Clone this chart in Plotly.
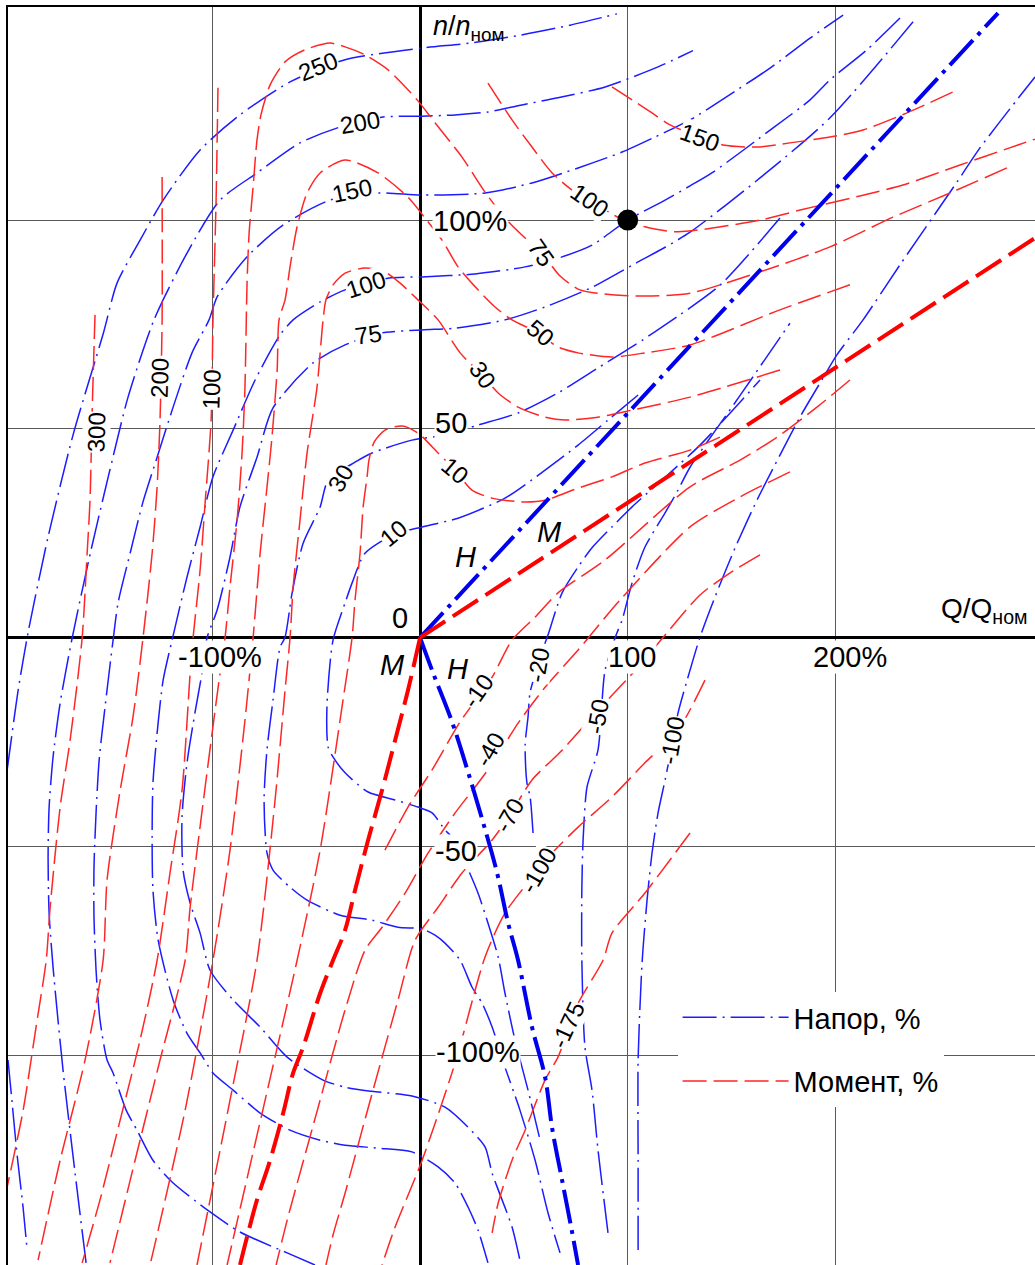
import plotly.graph_objects as go

FONT = "Liberation Sans, Arial, sans-serif"
BLUE = "#1c1cff"
RED = "#ff2626"

# ---------------- Head contours (Напор, %) : Q/Qном %, n/nном % ----------------
H250_q = [-198.8, -193.5, -188.7, -179.1, -167.1, -152.6, -145.9, -134.8, -123.7, -105.9, -86.7, -62.6, -36.1, 0.5, 24.1, 48.1, 72.2, 94.8]
H250_n = [-31.7, -12.6, 1.3, 24.1, 48.5, 72.7, 84.9, 95.2, 104.8, 116.8, 125.2, 133.1, 138.4, 141.2, 142.4, 144.3, 146.7, 149.4]

H250b_q = [-198.4, -196.4, -194.0, -191.1, -189.2]
H250b_n = [-101.2, -111.5, -124.0, -136.7, -146.7]

H200_q = [-160.8, -166.1, -171.9, -176.7, -178.6, -179.1, -178.6, -176.7, -173.3, -167.5, -158.4, -146.8, -140.6, -128.1, -112.2, -96.3, -78.5, -57.8, -38.5, -17.8, 1, 16.9, 32.7, 49.1, 66.4, 89.1, 114.6, 131.4]
H200_n = [-149.8, -128.3, -103.6, -79, -66, -52.6, -40.6, -28.6, -15.7, -0.1, 21, 45.4, 57.6, 76.1, 92.1, 104.8, 111.3, 118.5, 122.3, 124.7, 124.9, 125.2, 125.9, 127.6, 129.3, 131.9, 136.7, 140.6]

H150_q = [-50.6, -64, -86.7, -101.1, -119.4, -128.6, -136.3, -141.5, -147.8, -150.7, -154.1, -156, -157, -157, -156, -154.5, -151.7, -147.8, -145.4, -139.6, -133.4, -126.6, -118.9, -109.8, -101.6, -97.7, -83.3, -66, -43.3, -20.2, 1, 31.3, 53.9, 76.1, 97.3, 113.1, 130, 146.8, 168.5, 187.8, 203.7]
H150_n = [-150.3, -147.4, -142.4, -137.6, -130.4, -125.2, -118, -113.2, -104.3, -101.2, -91.6, -79.7, -67, -55, -42, -29.3, -16.7, -0.6, 8.3, 20.2, 32.5, 43.2, 55.2, 68.2, 76.1, 81.6, 91.2, 98.8, 104.8, 106.5, 106, 106.5, 108.9, 112.5, 116.3, 119.9, 124, 129.3, 136.4, 143.6, 149.1]

H100_q = [231.1, 215.2, 197.4, 187.8, 170, 141.1, 130, 118, 100, 82.8, 68.4, 50.6, 26.5, 1, -15.4, -36.1, -48.1, -61.1, -67.4, -79.4, -90, -99.7, -105.9, -112.2, -119.4, -123.7, -126.6, -128.6, -129, -128.6, -126.1, -118.9, -112.2, -105.9, -99.7, -90, -77, -62.6, -48.1, -36.1, -20.2, -3.9, 8.7, 16.9, 23.1, 27.9, 32.7]
H100_n = [148.4, 140.8, 133.6, 128.8, 122.1, 111.5, 108.2, 104.8, 100, 94, 91.2, 88.8, 87.1, 86.4, 86.1, 83.3, 80.4, 76.1, 72.5, 61.7, 49.7, 38.5, 26.5, 14.5, -0.6, -10.2, -22.9, -34.9, -47.8, -60.5, -72.5, -86.8, -94.8, -99.5, -104.3, -108.4, -113.9, -118, -120.4, -121.6, -122.3, -123.2, -126.8, -130.7, -136.4, -141.9, -149.8]

H75_q = [237.4, 197.4, 163.7, 130, 118, 102.1, 82.8, 60.2, 40.9, 16.9, 1, -19.3, -36.1, -51.5, -70.8, -78.5, -86.7, -91.5, -97.7, -102.6, -105, -108.3, -112.2, -114.6, -114.1, -110.7, -105.9, -101.1, -90, -77, -64, -46.7, -36.1, -23.1, -3.9, 12, 23.1, 31.3, 34.7, 39.5, 44.3, 48.6]
H75_n = [147.5, 124.5, 110.1, 97.1, 93.5, 89.2, 83.9, 79.2, 76.1, 74.1, 73.7, 72.9, 70.1, 65.8, 55, 43.2, 31.3, 19.3, 6.6, -0.1, -8.5, -17.8, -30, -43, -55.7, -63.6, -70.8, -79.7, -86.8, -93.3, -100.5, -106, -107.7, -108.7, -109.8, -112.5, -117.3, -122, -128.3, -134.7, -141.2, -150.3]

H30_q = [173.3, 144.4, 118, 103.5, 85.7, 66.4, 47.2, 27.9, 12, -3.9, -23.1, -31.3, -44.3, -48.1, -56.3, -61.6, -65, -67.4, -70.8, -73.7, -75.1, -73.7, -70.8, -62.6, -54.4, -38.5, -23.1, -10.6, 1, 7.2, 12, 19.3, 25, 29.9, 34.7, 40.9, 48.1, 55.4, 61.6, 67.4]
H30_n = [100.5, 84.4, 74.9, 70.1, 64.6, 58.6, 53.8, 50.9, 48.5, 47.3, 44.2, 42, 37.7, 31.3, 22.6, 10.7, 0.1, -2.3, -15, -26.9, -38.9, -51.6, -55.7, -59.8, -62.9, -66.5, -67.7, -69.4, -69.8, -71.3, -73.2, -77.3, -83.7, -87.6, -93.3, -102.9, -113.2, -125.2, -137.8, -147.4]

H10_q = [105, 90.5, 76.1, 60.2, 40.9, 18.3, 1, -13, -26.5, -32.7, -36.1, -41.9, -44.8, -44.3, -41.9, -36.1, -25, -12, -1, 5.8, 12, 14.4, 21.7, 27.9, 32.7, 37.6, 40.9, 45.7, 52, 57.8]
H10_n = [58.1, 52.1, 46.1, 40.1, 33.4, 28.6, 26.5, 24.6, 20.2, 13.1, 8.3, -0.6, -16.2, -26.2, -28.6, -32.4, -37, -38.9, -40.6, -42, -46.1, -47.3, -54, -61.2, -68.4, -76.5, -85.2, -96.4, -108.4, -120.4]

Hm20_q = [54.4, 53, 51.5, 50.6, 52, 53, 56.8, 60.2, 61.6, 68.4, 76.1, 82.8, 92.4, 102.1, 134.8, 163.7]
Hm20_n = [-46.8, -38.2, -34.9, -25.8, -19, -13.1, -6.6, -1.3, 0.6, 10.7, 16.9, 21.5, 26.5, 31.3, 46.1, 61.7]

Hm50_q = [90.5, 85.7, 82.8, 79.4, 77.9, 77.9, 78.5, 80.4, 85.7, 89.1, 94.8, 97.3, 102.1, 108.3, 117.9, 124.2, 130, 154.1, 178.1]
Hm50_n = [-142.6, -122.8, -108.4, -98.1, -77.3, -60.5, -48.5, -35.8, -26.9, -7.8, 1.1, 4.2, 13.1, 21.7, 29.8, 35.3, 40.8, 58.0, 75.3]

Hm100_q = [105, 105, 105, 106.9, 109.3, 111.7, 114.6, 118, 121.3, 124.2, 130, 134.8, 142, 151.7, 162.3, 173.3, 182.9, 194.9, 200.7, 213.3, 231.1, 258.5, 269.6, 287.4, 296.1]
Hm100_n = [-146.7, -125.2, -101.2, -78, -62.9, -51.6, -42, -34.1, -25.8, -18.1, -7.8, 0.1, 9.7, 21.5, 33, 43.7, 52.8, 62.9, 67.7, 76.1, 89.3, 109.1, 117.3, 128.8, 134.3]

# zero-head line (thick)
H0_up_q = [0, 278.3]
H0_up_n = [0, 149.6]
H0_dn_q = [0, 6.3, 15.4, 23.1, 30.3, 37.1, 42.4, 47.2, 53.9, 60.2, 63.6, 68.4, 73.2, 76.1]
H0_dn_n = [0, -8.5, -20.2, -32.2, -44.2, -56.4, -68.4, -77.3, -93.3, -105.3, -117.5, -130, -142.4, -150.3]

# ---------------- Torque contours (Момент, %) ----------------
M300_q = [-156.5, -157.9, -158.9, -160.3, -162.7, -168.5, -173.3, -178.1, -180, -184.9, -191.1, -198.8]
M300_n = [77.3, 53.8, 32.9, 20.2, -0.1, -24.6, -40.6, -64.6, -77.3, -93.3, -113.2, -131.6]

M200_q = [-124.2, -124.2, -125.2, -126.6, -129, -133.4, -138.2, -144.4, -150.7, -152.6, -161.3, -173.3, -183.9]
M200_n = [110.3, 76.1, 52.1, 36.1, 20.2, -0.1, -19, -36.6, -58.1, -77.3, -101.2, -125.2, -149.1]

M100L_q = [-97.3, -98.2, -99.7, -100.6, -103.5, -105.9, -109.3, -110.7, -114.6, -120.4, -126.6, -134.8, -144.4, -154.1, -162.7]
M100L_n = [131.7, 104.8, 76.1, 52.1, 32.2, 16.2, -0.1, -8.5, -36.6, -56.4, -77.3, -96.4, -115.6, -134.7, -149.8]

M150_q = [92.4, 102.1, 111.7, 120.4, 134.8, 145.9, 162.3, 178.1, 197.4, 213.3, 234.5, 256.6]
M150_n = [131.9, 128.8, 125.7, 122.8, 119.9, 118, 117.5, 118.5, 119.9, 121.6, 125.7, 130.7]

M100R_q = [32.7, 44.3, 53.9, 63.6, 73.2, 81.8, 95.3, 100, 108.3, 124.2, 163.7, 183, 211.8, 232.5, 260, 287.9, 296.1]
M100R_n = [132.8, 124, 117.5, 111.3, 107.2, 104.8, 100.7, 100, 98.4, 97.2, 100, 102.4, 105.8, 108.4, 113.2, 118, 119.4]

M75_q = [282.6, 255.2, 227.7, 197.4, 163.7, 130, 108.3, 92.4, 77, 67.4, 58.7, 50.6, 40.9, 31.3, 20.2, 7.2, -1.4, -15.4, -26.5, -36.1, -43.3, -55.4, -65, -72.2, -76.6, -78.5, -80.4, -82.3, -83.3, -84.3, -85.7, -88.1, -91.5, -93.9, -96.3, -102.6, -110.7, -113.1, -125.2, -137.2, -149.3]
M75_n = [112.5, 106.5, 100.7, 93.6, 87.6, 82.5, 81.8, 82.1, 83.3, 86.6, 92.1, 95.7, 100.5, 106.7, 115.1, 123.3, 128.8, 136, 139.6, 141.5, 142.4, 140.8, 137.9, 132.4, 125.2, 119.2, 107.9, 96.9, 84.9, 60, 44.2, 28.1, 12.1, -0.1, -8.5, -32.4, -64.6, -77.3, -101.2, -125.2, -149.8]

M50_q = [207, 173.3, 130, 108.3, 92.4, 76.1, 66.4, 56.8, 44.3, 36.1, 27.9, 18.3, 10.6, 2.4, -5.8, -20.2, -36.1, -48.1, -54.4, -59.2, -62.6, -65, -67.9, -68.8, -71.3, -73.7, -77, -80.4, -84.3, -91.5, -99.7, -113.1, -130]
M50_n = [84.5, 78.5, 70.1, 68.2, 67.2, 68.2, 69.6, 73, 76.1, 79.2, 83.3, 88.8, 95.2, 100.5, 105.5, 111.3, 114.4, 111.3, 106.5, 98.4, 88.8, 80.9, 76.1, 64.1, 48, 36, 20.2, -0.1, -19.8, -50.9, -77.3, -113.2, -150.3]

M30_q = [173.3, 130, 102.1, 85.7, 69.8, 60.2, 47.2, 37.6, 29.9, 19.3, 8.7, -1, -9.6, -16.9, -26.5, -36.1, -41.9, -45.3, -46.7, -49.6, -54.4, -57.8, -61.1, -62.6, -65, -69.8, -78.5, -91.5, -107.4]
M30_n = [64.1, 57.6, 54.5, 52.8, 52.1, 52.8, 55.2, 58.6, 62.9, 68.2, 76.1, 80.9, 84.9, 87.6, 88.5, 87.3, 84.5, 80.9, 76.1, 60, 44.2, 28.1, 12.1, -0.1, -12.6, -38.9, -77.3, -110.8, -150.3]

M10_q = [144.4, 130, 108.3, 92.4, 76.1, 60.2, 49.1, 34.7, 25, 16.9, 8.7, -1, -8.7, -16.9, -22.1, -24.6, -25.5, -27.4, -28.9, -31.3, -32.7, -37.1, -48.1, -59.2, -74.6, -92.9]
M10_n = [48.0, 44.9, 41.8, 38.5, 35.8, 32.9, 32.5, 33.4, 35.3, 40.1, 44.2, 49, 50.7, 49.7, 46.8, 42.5, 38.5, 31.3, 20.2, 9, 0.1, -15, -50.9, -77.3, -110.8, -150.3]

Mm10_q = [207, 191.1, 171.9, 154.1, 130, 89.1, 66.4, 55.4, 44.3, 34.7, 19.3, 5.8, -5.8, -16.9]
Mm10_n = [61.7, 55.2, 48, 42.5, 36.1, 18.6, 10.7, 4.9, -0.6, -9.5, -20.2, -31.7, -40.6, -50.9]

Mm40_q = [178.1, 154.1, 130, 96.3, 76.1, 60.2, 47.2, 36.1, 27.9, 16.9, 3.9, -7.2, -18.3, -26.5, -36.1, -50.1, -64, -69.3]
Mm40_n = [39.7, 33.7, 26.5, 9, -3, -11.9, -20.5, -29.3, -34.9, -42, -51.6, -61.2, -69.4, -74.9, -89.2, -114.4, -139.6, -150.3]

Mm70_q = [163.7, 149.3, 134.8, 118, 105, 85.7, 68.4, 53.9, 43.3, 34.7, 20.2, 8.7, -2.4, -10.6, -19.3, -27.9, -36.1, -41.9, -45.3]
Mm70_n = [19.8, 15.5, 10.2, 0.6, -7.1, -17.4, -27, -34.1, -42.5, -48.5, -56.4, -64.6, -72.5, -86.8, -102.4, -118, -133.1, -143.1, -150.3]

Mm100_q = [137.2, 124.2, 108.3, 92.4, 76.1, 63.6, 56.8, 40.9, 31.3, 16.9, 1, -12, -18.3]
Mm100_n = [-10.2, -22.2, -30, -38.2, -45.4, -51.6, -55.7, -66, -76.5, -101.9, -125.2, -141.2, -150.3]

Mm175_q = [130, 108.3, 92.4, 88.1, 76.1, 71.3, 66.4, 60.2, 50.6, 44.3, 37.6, 34.7]
Mm175_n = [-46.8, -61.2, -70.8, -77.3, -87.6, -94.1, -100.5, -106, -118, -125.2, -135.5, -142.6]

# zero-torque line (thick)
M0_up_q = [0, 296.1]
M0_up_n = [0, 95.7]
M0_dn_q = [0, -5.8, -12, -18.3, -25, -31.3, -36.1, -41.9, -48.1, -56.3, -61.1, -65.9, -72.2, -78.5, -83.3, -86.7]
M0_dn_n = [0, -12.6, -24.6, -36.6, -48.5, -60.5, -70.1, -77.3, -85.2, -98.1, -104.3, -113.9, -125.2, -134.7, -143.6, -150.3]

# nominal point
NOM_q = [100]
NOM_n = [100]

# contour labels
HL_text = ["250", "200", "150", "100", "75", "30", "10", "-20", "-50", "-100"]
HL_q = [-49.1, -28.9, -32.7, -26.0, -25.0, -38.5, -13.0, 56.8, 85.7, 121.3]
HL_n = [136.9, 123.5, 107.2, 84.5, 72.7, 38.2, 25.0, -6.6, -19.0, -24.6]
HL_ang = [-22, -10, -12, -18, -8, -60, -40, -80, -80, -80]

ML_text = ["300", "200", "100", "150", "100", "75", "50", "30", "10", "-10", "-40", "-70", "-100", "-175"]
ML_q = [-156.0, -125.2, -100.6, 134.8, 81.8, 58.7, 57.8, 29.9, 16.9, 27.9, 33.7, 43.3, 56.8, 71.3]
ML_n = [49.2, 62.2, 59.5, 119.9, 104.8, 92.1, 73.0, 62.9, 40.1, -12.6, -26.9, -42.5, -55.7, -92.8]
ML_ang = [-88, -88, -88, 20, 35, 55, 40, 55, 40, -55, -60, -60, -60, -65]

# axis tick labels
TICK_text = ["100%", "50", "-50", "-100%", "-100%", "100", "200%", "0"]
TICK_q = [24.1, 14.9, 17.3, 27.9, -96.3, 102.1, 207.0, -9.6]
TICK_n = [99.8, 51.4, -51.1, -99.3, -4.7, -4.7, -4.7, 4.7]

# line-name letters
LET_text = ["H", "M", "M", "H"]
LET_q = [21.7, 62.1, -13.5, 17.8]
LET_n = [19.3, 25.3, -6.6, -7.5]

head_list = [(H250_q, H250_n), (H250b_q, H250b_n), (H200_q, H200_n), (H150_q, H150_n),
             (H100_q, H100_n), (H75_q, H75_n), (H30_q, H30_n), (H10_q, H10_n),
             (Hm20_q, Hm20_n), (Hm50_q, Hm50_n), (Hm100_q, Hm100_n)]
torque_list = [(M300_q, M300_n), (M200_q, M200_n), (M100L_q, M100L_n), (M150_q, M150_n),
               (M100R_q, M100R_n), (M75_q, M75_n), (M50_q, M50_n), (M30_q, M30_n), (M10_q, M10_n),
               (Mm10_q, Mm10_n), (Mm40_q, Mm40_n), (Mm70_q, Mm70_n), (Mm100_q, Mm100_n), (Mm175_q, Mm175_n)]

BLUE_DASH = "34px,6px,2px,6px"
RED_DASH = "24px,7px"

fig = go.Figure()

for i, (q, n) in enumerate(head_list):
    fig.add_trace(go.Scatter(
        x=q, y=n, mode="lines", name="Напор, %", legendgroup="h", showlegend=(i == 0),
        line=dict(color=BLUE, width=1.5, dash=BLUE_DASH, shape="spline", smoothing=0.7),
        hoverinfo="skip"))

for i, (q, n) in enumerate(torque_list):
    fig.add_trace(go.Scatter(
        x=q, y=n, mode="lines", name="Момент, %", legendgroup="m", showlegend=(i == 0),
        line=dict(color=RED, width=1.5, dash=RED_DASH, shape="spline", smoothing=0.7),
        hoverinfo="skip"))

for q, n in [(H0_up_q, H0_up_n), (H0_dn_q, H0_dn_n)]:
    fig.add_trace(go.Scatter(x=q, y=n, mode="lines", showlegend=False, hoverinfo="skip",
                             line=dict(color="#0000ee", width=4, dash="34px,7px,4px,7px", shape="spline")))
for q, n in [(M0_up_q, M0_up_n), (M0_dn_q, M0_dn_n)]:
    fig.add_trace(go.Scatter(x=q, y=n, mode="lines", showlegend=False, hoverinfo="skip",
                             line=dict(color="#ff0000", width=4, dash="30px,9px", shape="spline")))

fig.add_trace(go.Scatter(x=NOM_q, y=NOM_n, mode="markers", showlegend=False, hoverinfo="skip",
                         marker=dict(size=21, color="black")))

ann = []
for t, q, n, a in zip(HL_text, HL_q, HL_n, HL_ang):
    ann.append(dict(x=q, y=n, text=t, textangle=a, showarrow=False, bgcolor="white", borderpad=0,
                    font=dict(size=24, color="black", family=FONT)))
for t, q, n, a in zip(ML_text, ML_q, ML_n, ML_ang):
    ann.append(dict(x=q, y=n, text=t, textangle=a, showarrow=False, bgcolor="white", borderpad=0,
                    font=dict(size=24, color="black", family=FONT)))
for t, q, n in zip(TICK_text, TICK_q, TICK_n):
    ann.append(dict(x=q, y=n, text=t, showarrow=False, bgcolor="white", borderpad=0,
                    font=dict(size=29, color="black", family=FONT)))
for t, q, n in zip(LET_text, LET_q, LET_n):
    ann.append(dict(x=q, y=n, text=t, showarrow=False,
                    font=dict(size=29, color="black", family=FONT, style="italic")))

ann.append(dict(x=5.3, y=146, text="<i>n</i>/<i>n</i><sub>ном</sub>", showarrow=False, xanchor="left",
                font=dict(size=27, color="black", family=FONT)))
ann.append(dict(x=293.7, y=6.4, text="Q/Q<sub>ном</sub>", showarrow=False, xanchor="right",
                font=dict(size=28, color="black", family=FONT)))

fig.update_layout(
    width=1035, height=1265,
    margin=dict(l=8, r=0, t=7, b=0),
    paper_bgcolor="white", plot_bgcolor="white",
    font=dict(family=FONT, size=24, color="black"),
    annotations=ann,
    showlegend=True,
    legend=dict(x=0.652, y=0.217, xanchor="left", yanchor="top", bgcolor="white",
                font=dict(size=29, family=FONT, color="black"), itemwidth=106,
                tracegroupgap=23, traceorder="grouped", borderwidth=0),
    xaxis=dict(range=[-198.4, 296.1], tickvals=[-100, 100, 200], showticklabels=False, ticks="",
               showgrid=True, gridcolor="#5a5a5a", gridwidth=1.3,
               zeroline=True, zerolinecolor="black", zerolinewidth=3,
               showline=True, linecolor="black", linewidth=2, side="top"),
    yaxis=dict(range=[-150.3, 151.05], tickvals=[-100, -50, 50, 100], showticklabels=False, ticks="",
               showgrid=True, gridcolor="#5a5a5a", gridwidth=1.3,
               zeroline=True, zerolinecolor="black", zerolinewidth=3,
               showline=True, linecolor="black", linewidth=2),
)

fig.write_html("out.html", config={"displayModeBar": False},
               post_script="document.body.style.margin='0px';document.body.style.overflow='hidden';")
